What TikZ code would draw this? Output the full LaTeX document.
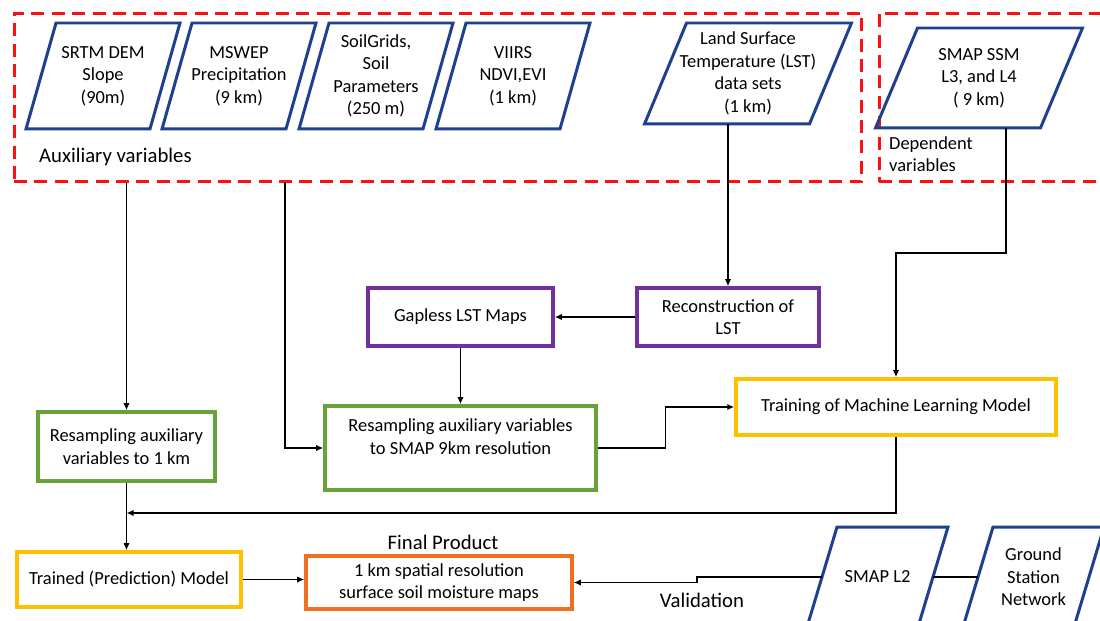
\documentclass[tikz,border=0pt]{standalone}
\usepackage{fontspec}
\setmainfont{Carlito}
\usetikzlibrary{calc,arrows.meta}

\definecolor{navy}{HTML}{1F3F8F}
\definecolor{dashred}{HTML}{FF1010}
\definecolor{green1}{HTML}{68A33A}
\definecolor{purple1}{HTML}{7030A0}
\definecolor{gold}{HTML}{FFC000}
\definecolor{orange1}{HTML}{F07022}

\begin{document}
\begin{tikzpicture}[x=0.02cm, y=-0.02cm,
        >={Latex[length=4pt,width=3.6pt]},
        every node/.style={font=\fontsize{10.5}{12.8}\selectfont},
        biglabel/.style={font=\fontsize{11.8}{14}\selectfont},
        conn/.style={line width=0.8pt},
        redbox/.style={draw=dashred, line width=1.7pt, dash pattern=on 7.4pt off 4.2pt},
        flowbox/.style={draw=#1, line width=2pt, align=center, inner sep=2pt},
        para/.style={align=center, inner sep=0pt, outer sep=0pt},
        paraline/.style={draw=navy, line width=1.7pt, line join=miter}]
            \useasboundingbox (0,0) rectangle (1100,621);
            \clip (0,0) rectangle (1100,621);

            \node[redbox, minimum width=16.96cm, minimum height=3.38cm] (aux) at (438,97.5) {};
            \node[redbox, minimum width=4.82cm, minimum height=3.38cm] (dep) at (999.5,97.5) {};
            \node[biglabel, anchor=west] (auxlabel) at (33,157) {Auxiliary variables};
            \node[anchor=west, align=left] (deplabel) at (883,154) {Dependent\\variables};

            \foreach \n/\x/\t in {srtm/103/{SRTM DEM\\Slope\\(90m)}, mswep/239/{MSWEP\\Precipitation\\(9 km)}, soilg/376/{SoilGrids,\\Soil\\Parameters\\(250 m)}, viirs/513/{VIIRS\\NDVI,EVI\\(1 km)}} {
                \node[para, minimum width=2.48cm, minimum height=2.12cm] (\n) at (\x,76) {\t};
            }
            \node[para, minimum width=3.3cm, minimum height=2.02cm] (lst) at (748,73.5) {Land Surface\\Temperature (LST)\\data sets\\(1 km)};
            \node[para, minimum width=3.3cm, minimum height=2cm] (ssm) at (979,78) {SMAP SSM\\L3, and L4\\( 9 km)};
            \node[para, minimum width=2.22cm, minimum height=2cm] (l2) at (877.5,577) {SMAP L2};
            \node[para, minimum width=2.22cm, minimum height=2cm] (gsn) at (1033.5,577) {Ground\\Station\\Network};
            \foreach \n/\s in {srtm/30, mswep/30, soilg/30, viirs/30, lst/42, ssm/42, l2/30, gsn/30} {
                \draw[paraline] ($(\n.north west)+(\s/2,0)$) -- ($(\n.north east)+(\s/2,0)$) -- ($(\n.south east)-(\s/2,0)$) -- ($(\n.south west)-(\s/2,0)$) -- cycle;
            }

            \node[flowbox=green1, minimum width=3.54cm, minimum height=1.38cm] (res1) at (126.5,446.5) {Resampling auxiliary\\variables to 1 km};
            \node[flowbox=green1, minimum width=5.42cm, minimum height=1.68cm] (res9) at (460.5,448) {Resampling auxiliary variables\\to SMAP 9km resolution\\\mbox{}};
            \node[flowbox=purple1, minimum width=3.7cm, minimum height=1.16cm] (gap) at (460.5,317) {Gapless LST Maps};
            \node[flowbox=purple1, minimum width=3.64cm, minimum height=1.16cm] (recon) at (728,317) {Reconstruction of\\LST};
            \node[flowbox=gold, minimum width=6.4cm, minimum height=1.12cm] (train) at (896,407) {Training of Machine Learning Model};
            \node[flowbox=gold, minimum width=4.48cm, minimum height=1.1cm] (pred) at (129,579.5) {Trained (Prediction) Model};
            \node[flowbox=orange1, minimum width=5.32cm, minimum height=1.06cm] (final) at (439,582.5) {1 km spatial resolution\\surface soil moisture maps};
            \node[biglabel] (finallabel) at (443,542) {Final Product};
            \node[biglabel] (validlabel) at (702,600) {Validation};

            \coordinate (auxout) at (285,182);
            \coordinate (ssmout) at ($(ssm.south)+(27,0)$);
            \coordinate (joint) at (res1.south |- 0,513);

            \draw[conn,->] (aux.south -| res1.north) -- (res1.north);
            \draw[conn,->] (auxout) |- (res9.west);
            \draw[conn,->] (lst.south -| recon.north) -- (recon.north);
            \draw[conn,->] (recon.west) -- (gap.east);
            \draw[conn,->] (gap.south) -- (res9.north);
            \draw[conn,->] (res9.east) -- ++(68,0) |- (train.west);
            \draw[conn,->] (ssmout) -- ++(0,125) -| (train.north);
            \draw[conn,->] (train.south) |- (joint);
            \draw[conn,->] (res1.south) -- (res1.south |- pred.north);
            \draw[conn,->] (pred.east) -- (pred.east -| final.west);
            \draw[conn,->] (l2.west) -- ++(-125,0) |- (final.east);
            \draw[conn] (l2.east) -- (gsn.west);
        \end{tikzpicture}
\end{document}
